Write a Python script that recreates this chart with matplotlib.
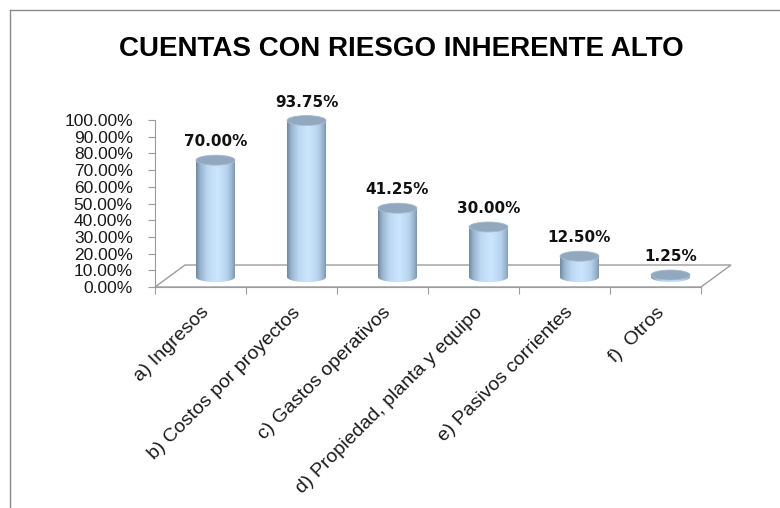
import numpy as np
import matplotlib
matplotlib.use("Agg")
import matplotlib.pyplot as plt
from matplotlib.transforms import ScaledTranslation
from matplotlib.patches import PathPatch, Ellipse, Polygon
from matplotlib.path import Path
from matplotlib.lines import Line2D

# ---- data ----
categories = ["a) Ingresos", "b) Costos por proyectos", "c) Gastos operativos",
              "d) Propiedad, planta y equipo", "e) Pasivos corrientes", "f)  Otros"]
values = [0.70, 0.9375, 0.4125, 0.30, 0.125, 0.0125]
yticks = [0.0, 0.1, 0.2, 0.3, 0.4, 0.5, 0.6, 0.7, 0.8, 0.9, 1.0]
title = "CUENTAS CON RIESGO INHERENTE ALTO"

W, H, DPI = 780, 508, 100
fig = plt.figure(figsize=(W / DPI, H / DPI), dpi=DPI)
fig.patch.set_facecolor("white")

FONT = ["Liberation Sans", "DejaVu Sans"]
LBLFONT = ["DejaVu Sans"]
GRAY = "#9c9c9c"

# front plane of the chart (pixels)
ax_l, ax_r, ax_b, ax_t = 155, 701, 287, 120
px_per_y = (ax_b - ax_t)  # pixels per 1.0
ymax = 1.1
ax = fig.add_axes([ax_l / W, 1 - ax_b / H, (ax_r - ax_l) / W, px_per_y * ymax / H])
ax.set_xlim(-0.5, len(categories) - 0.5)
ax.set_ylim(0, ymax)
ax.set_autoscale_on(False)
ax.patch.set_alpha(0)
px_per_x = (ax_r - ax_l) / len(categories)

for s in ["top", "right"]:
    ax.spines[s].set_visible(False)
ax.spines["left"].set_bounds(0, 1)
ax.spines["left"].set_color(GRAY)
ax.spines["bottom"].set_color(GRAY)

ax.set_yticks(yticks)
ax.set_yticklabels([f"{t*100:.2f}%" for t in yticks], fontfamily=FONT, fontsize=12.5, color="#1a1a1a")
ax.tick_params(axis="y", length=5, color=GRAY, pad=11)

bounds = np.arange(-0.5, len(categories), 1.0)
ax.set_xticks(bounds)
ax.set_xticklabels([])
ax.tick_params(axis="x", which="major", length=5, color=GRAY)
ax.set_xticks(np.arange(len(categories)), categories, minor=True)
ax.tick_params(axis="x", which="minor", length=0, pad=12)
for lab in ax.get_xticklabels(minor=True):
    lab.set_rotation(45)
    lab.set_ha("right")
    lab.set_va("top")
    lab.set_rotation_mode("anchor")
    lab.set_fontfamily(FONT)
    lab.set_fontsize(14)
    lab.set_color("#1a1a1a")

# floor (3D depth)
depth_px = (30, 22)
ddx, ddy = depth_px[0] / px_per_x, depth_px[1] / px_per_y
x0, x1 = ax.get_xlim()
floor = Polygon([(x0, 0), (x1, 0), (x1 + ddx, ddy), (x0 + ddx, ddy)], closed=True,
                facecolor="none", edgecolor=GRAY, lw=1.0, zorder=1, clip_on=False)
ax.add_patch(floor)

# cylinders, placed at mid depth
trans = ax.transData + ScaledTranslation(depth_px[0] / 2 / DPI, depth_px[1] / 2 / DPI * 0.9, fig.dpi_scale_trans)
bw = 39 / px_per_x
eh = 10 / px_per_y

stops = [(0.00, (0.44, 0.54, 0.64)),
         (0.10, (0.60, 0.70, 0.80)),
         (0.30, (0.74, 0.85, 0.95)),
         (0.55, (0.80, 0.90, 0.99)),
         (0.80, (0.72, 0.83, 0.93)),
         (0.93, (0.60, 0.70, 0.80)),
         (1.00, (0.50, 0.60, 0.70))]
n = 64
tt = np.linspace(0, 1, n)
grad = np.zeros((1, n, 3))
for c in range(3):
    grad[0, :, c] = np.interp(tt, [s[0] for s in stops], [s[1][c] for s in stops])

for i, v in enumerate(values):
    cx = i
    xl, xr = cx - bw / 2, cx + bw / 2
    t1 = np.linspace(np.pi, 2 * np.pi, 40)
    t2 = np.linspace(0, np.pi, 40)
    pts = [(xl, v), (xl, 0)]
    pts += [(cx + bw / 2 * np.cos(t), eh / 2 * np.sin(t)) for t in t1]
    pts += [(xr, v)]
    pts += [(cx + bw / 2 * np.cos(t), v + eh / 2 * np.sin(t)) for t in t2]
    pts.append(pts[0])
    codes = [Path.MOVETO] + [Path.LINETO] * (len(pts) - 2) + [Path.CLOSEPOLY]
    body = PathPatch(Path(pts, codes), transform=trans, facecolor="none", edgecolor="none", zorder=3)
    ax.add_patch(body)
    im = ax.imshow(grad, extent=[xl, xr, -eh, v + eh], transform=trans, aspect="auto",
                   interpolation="bilinear", zorder=3)
    im.set_clip_path(body)
    top = Ellipse((cx, v), bw, eh, transform=trans, facecolor="#91a8bf",
                  edgecolor="#a9bdd0", lw=0.6, zorder=4)
    ax.add_patch(top)
    ax.annotate(f"{v*100:.2f}%", xy=(cx, v), xycoords=trans, xytext=(0, 10),
                textcoords="offset points", ha="center", va="baseline",
                fontfamily=LBLFONT, fontweight="bold", fontsize=11, color="#111111", zorder=5)

ax.set_xlim(x0, x1)
ax.set_ylim(0, ymax)

# title
fig.text(401 / W, 1 - 56 / H, title, ha="center", va="baseline",
         fontfamily=["Liberation Sans", "DejaVu Sans"], fontweight="bold",
         fontsize=20, color="#000000")

# chart border (top and left visible)
fig.add_artist(Line2D([10 / W, 1], [1 - 10 / H, 1 - 10 / H], transform=fig.transFigure, color="#8a8a8a", lw=1))
fig.add_artist(Line2D([10 / W, 10 / W], [0, 1 - 10 / H], transform=fig.transFigure, color="#8a8a8a", lw=1))

fig.savefig("out.png", dpi=DPI, facecolor="white")
